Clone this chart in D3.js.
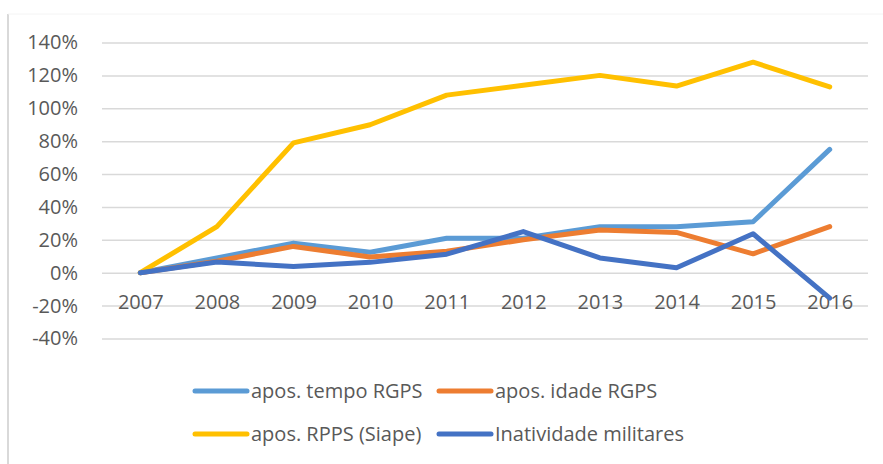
<!DOCTYPE html>
<html>
<head>
<meta charset="utf-8">
<script src="https://cdn.jsdelivr.net/npm/d3@7"></script>
<style>
  body { margin: 0; background: #ffffff; }
  svg text { font-family: "Open Sans", "Noto Sans", sans-serif; fill: #595959; }
</style>
</head>
<body>
<div class="chart"></div>
<script>
// Data
const years = ['2007', '2008', '2009', '2010', '2011', '2012', '2013', '2014', '2015', '2016'];
const tempoRGPS = [0, 9, 18, 12.5, 21, 21, 28, 28, 31, 75];
const idadeRGPS = [0, 7, 16, 9.5, 13, 20, 26, 24.5, 11.5, 28];
const rppsSiape = [0, 28, 79, 90, 108, 114, 120, 113.5, 128, 113];
const militares = [0, 6.5, 3.8, 6.3, 11.3, 25, 9, 3, 23.7, -15.5];
const yTicks = [-40, -20, 0, 20, 40, 60, 80, 100, 120, 140];

const series = [
    { name: 'apos. tempo RGPS', values: tempoRGPS, color: '#5B9BD5' },
    { name: 'apos. idade RGPS', values: idadeRGPS, color: '#ED7D31' },
    { name: 'apos. RPPS (Siape)', values: rppsSiape, color: '#FFC000' },
    { name: 'Inatividade militares', values: militares, color: '#4472C4' },
];

const W = 883, H = 464;
const plot = { left: 102, right: 868, top: 42.5, bottom: 338.5 };

const svg = d3.select('.chart')
    .append('svg')
    .attr('width', W)
    .attr('height', H);

// Frame (only left & top edges visible in the crop)
svg.append('line')
    .attr('x1', 8).attr('x2', 8).attr('y1', 14).attr('y2', H)
    .attr('stroke', '#d9d9d9').attr('stroke-width', 2);
svg.append('line')
    .attr('x1', 8).attr('x2', W).attr('y1', 14).attr('y2', 14)
    .attr('stroke', '#f4f4f4').attr('stroke-width', 1);

const x = d3.scalePoint()
    .domain(years)
    .range([plot.left, plot.right])
    .padding(0.5);

const y = d3.scaleLinear()
    .domain([-40, 140])
    .range([plot.bottom, plot.top]);

// Gridlines + y labels
const yAxis = svg.append('g')
    .attr('transform', `translate(${plot.left},0)`)
    .call(d3.axisLeft(y)
        .tickValues(yTicks)
        .tickSize(-(plot.right - plot.left))
        .tickPadding(24)
        .tickFormat(d => d + '%'));
yAxis.select('.domain').remove();
yAxis.selectAll('.tick line')
    .attr('stroke', '#d9d9d9')
    .attr('stroke-width', 1.5);
yAxis.selectAll('.tick text')
    .attr('font-size', 20)
    .attr('fill', '#595959');

// Category labels sit just below the 0% line
const xAxis = svg.append('g')
    .attr('transform', `translate(0,${y(0)})`)
    .call(d3.axisBottom(x).tickSize(0).tickPadding(22));
xAxis.select('.domain').remove();
xAxis.selectAll('.tick text')
    .attr('font-size', 20)
    .attr('fill', '#595959');

// Lines
const line = d3.line()
    .x((d, i) => x(years[i]))
    .y(d => y(d));

svg.selectAll('.series')
    .data(series)
    .enter()
    .append('path')
    .attr('class', 'series')
    .attr('d', d => line(d.values))
    .attr('fill', 'none')
    .attr('stroke', d => d.color)
    .attr('stroke-width', 5)
    .attr('stroke-linecap', 'round')
    .attr('stroke-linejoin', 'round');

// Legend, 2 x 2
const legendPos = [[195, 391], [439, 391], [195, 434], [439, 434]];
const legend = svg.selectAll('.legend-item')
    .data(series)
    .enter()
    .append('g')
    .attr('class', 'legend-item')
    .attr('transform', (d, i) => `translate(${legendPos[i][0]},${legendPos[i][1]})`);

legend.append('line')
    .attr('x1', 0).attr('x2', 52)
    .attr('stroke', d => d.color)
    .attr('stroke-width', 5)
    .attr('stroke-linecap', 'round');

legend.append('text')
    .attr('x', 56)
    .attr('dy', '0.35em')
    .attr('font-size', 20)
    .text(d => d.name);
</script>
</body>
</html>
